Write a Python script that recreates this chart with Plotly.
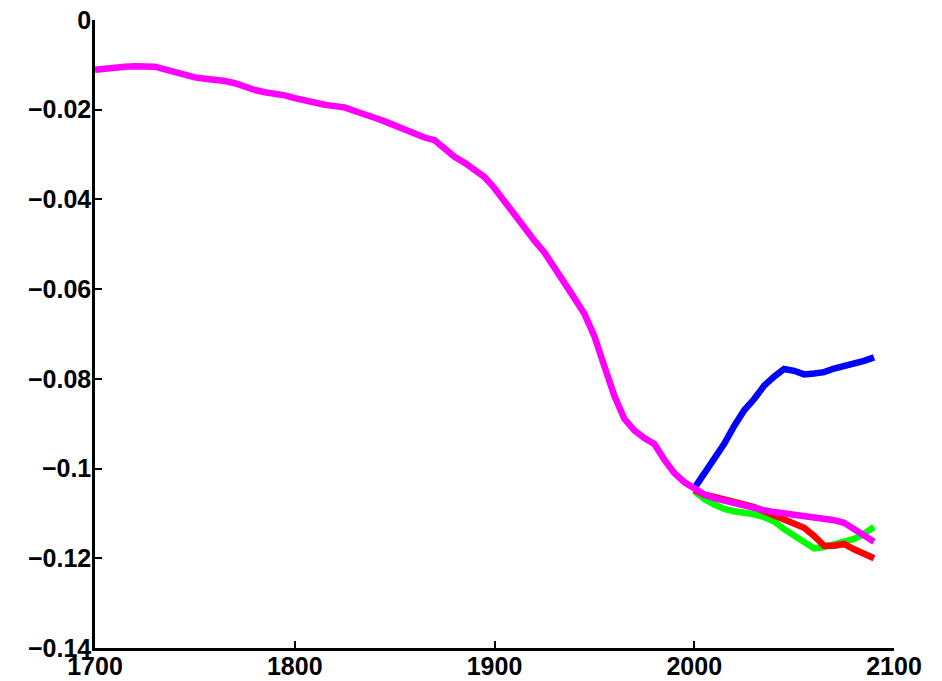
import plotly.graph_objects as go

years_hist = list(range(1700, 2095, 5))
magenta_vals = [
    -0.0111, -0.0108, -0.0106, -0.0104, -0.0103, -0.0102, -0.0104, -0.0110, -0.0117, -0.0124,
    -0.0128, -0.0131, -0.0133, -0.0136, -0.0141, -0.0149, -0.0156, -0.0161, -0.0164, -0.0168,
    -0.0174, -0.0180, -0.0185, -0.0189, -0.0192, -0.0195, -0.0203, -0.0212, -0.0218, -0.0226,
    -0.0236, -0.0246, -0.0256, -0.0262, -0.0268, -0.0287, -0.0305, -0.0318, -0.0333, -0.0350,
    -0.0375, -0.0404, -0.0434, -0.0466, -0.0492, -0.0518, -0.0550, -0.0582, -0.0620, -0.0655,
    -0.0705, -0.0772, -0.0838, -0.0889, -0.0915, -0.0932, -0.0945, -0.0980, -0.1010, -0.1030,
    -0.1046, -0.1058, -0.1066, -0.1072, -0.1078, -0.1083, -0.1088, -0.1093, -0.1097, -0.1100,
    -0.1103, -0.1105, -0.1107, -0.1110, -0.1115, -0.1121, -0.1135, -0.1148, -0.1163,
]

years_future = list(range(2000, 2095, 5))
blue_vals = [
    -0.1044, -0.1010, -0.0980, -0.0945, -0.0905, -0.0870, -0.0845, -0.0815, -0.0795, -0.0778,
    -0.0782, -0.0790, -0.0788, -0.0785, -0.0777, -0.0772, -0.0766, -0.0760, -0.0752,
]
red_vals = [
    -0.1048, -0.1058, -0.1063, -0.1068, -0.1074, -0.1080, -0.1086, -0.1095, -0.1104, -0.1112,
    -0.1120, -0.1132, -0.1150, -0.1172, -0.1172, -0.1168, -0.1180, -0.1190, -0.1200,
]
green_vals = [
    -0.1050, -0.1068, -0.1080, -0.1090, -0.1095, -0.1098, -0.1102, -0.1108, -0.1118, -0.1135,
    -0.1150, -0.1165, -0.1178, -0.1175, -0.1170, -0.1163, -0.1157, -0.1145, -0.1130,
]

x_tickvals = [1700, 1800, 1900, 2000, 2100]
x_ticktext = ["1700", "1800", "1900", "2000", "2100"]
y_tickvals = [0, -0.02, -0.04, -0.06, -0.08, -0.1, -0.12, -0.14]
y_ticktext = ["0", "\u22120.02", "\u22120.04", "\u22120.06", "\u22120.08", "\u22120.1", "\u22120.12", "\u22120.14"]

fig = go.Figure()
lw = 6.5
fig.add_trace(go.Scatter(x=years_future, y=green_vals, mode="lines",
                         line=dict(color="#00FF00", width=lw)))
fig.add_trace(go.Scatter(x=years_future, y=red_vals, mode="lines",
                         line=dict(color="#FF0000", width=lw)))
fig.add_trace(go.Scatter(x=years_future, y=blue_vals, mode="lines",
                         line=dict(color="#0000FF", width=lw)))
fig.add_trace(go.Scatter(x=years_hist, y=magenta_vals, mode="lines",
                         line=dict(color="#FF00FF", width=lw)))

font = dict(family="Liberation Sans, Arial, sans-serif", size=25, color="black", weight="bold")

fig.update_layout(
    width=942, height=681,
    margin=dict(l=95, r=48, t=20, b=33),
    paper_bgcolor="white", plot_bgcolor="white",
    showlegend=False,
    xaxis=dict(range=[1700, 2100], tickvals=x_tickvals, ticktext=x_ticktext,
               showgrid=False, zeroline=False, showline=True, linecolor="black", linewidth=2.5,
               ticks="inside", ticklen=7, tickwidth=2, tickcolor="black", mirror=False,
               tickfont=font, automargin=False, ticklabelstandoff=-6,
               ticklabeloverflow="allow"),
    yaxis=dict(range=[-0.14, 0], tickvals=y_tickvals, ticktext=y_ticktext,
               showgrid=False, zeroline=False, showline=True, linecolor="black", linewidth=2.5,
               ticks="inside", ticklen=7, tickwidth=2, tickcolor="black", mirror=False,
               tickfont=font, automargin=False, ticklabelstandoff=-4,
               ticklabeloverflow="allow"),
)

# remove the default 8px body margin so the figure fills the window exactly
fig.write_html("out.html",
               config={"displayModeBar": False},
               post_script="document.body.style.margin='0';document.body.style.overflow='hidden';")
